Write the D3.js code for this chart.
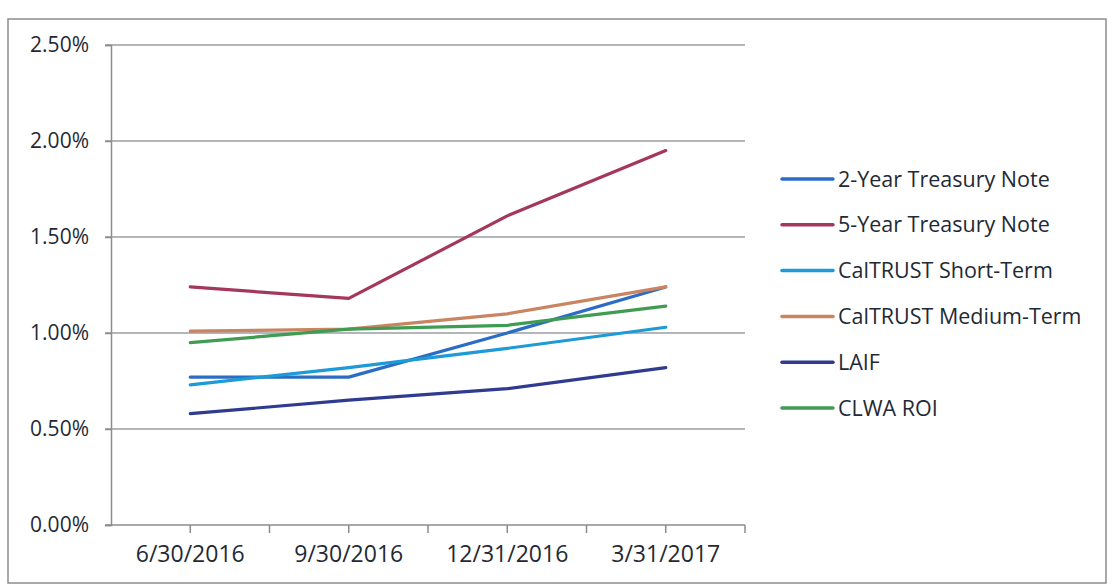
<!DOCTYPE html>
<html lang="en">
<head>
<meta charset="utf-8">
<title>Rate comparison</title>
<script src="https://d3js.org/d3.v7.min.js"></script>
<style>
  body { margin: 0; background: #fff; }
  text { font-family: "Open Sans", sans-serif; fill: #1f2a35; }
</style>
</head>
<body>
<script>
// quarters on the x axis
var dates = ["6/30/2016", "9/30/2016", "12/31/2016", "3/31/2017"];

// series values (percent)
var twoYear     = [0.77, 0.77, 1.00, 1.24];
var fiveYear    = [1.24, 1.18, 1.61, 1.95];
var ctShort     = [0.73, 0.82, 0.92, 1.03];
var ctMedium    = [1.01, 1.02, 1.10, 1.24];
var laif        = [0.58, 0.65, 0.71, 0.82];
var clwa        = [0.95, 1.02, 1.04, 1.14];

var seriesNames  = ["2-Year Treasury Note", "5-Year Treasury Note", "CalTRUST Short-Term",
                    "CalTRUST Medium-Term", "LAIF", "CLWA ROI"];
var seriesValues = [twoYear, fiveYear, ctShort, ctMedium, laif, clwa];
var seriesColors = ["#2b6cc4", "#a3385a", "#1c9bd6", "#c98462", "#2f3b8e", "#3f9c52"];

var yTicks = [0, 0.5, 1.0, 1.5, 2.0, 2.5];

var width = 1112, height = 587;
var plotLeft = 111, plotRight = 745, plotTop = 45, plotBottom = 525;

var svg = d3.select("body").append("svg")
    .attr("width", width)
    .attr("height", height);

// outer chart border
svg.append("rect")
    .attr("x", 8).attr("y", 19)
    .attr("width", 1098).attr("height", 564)
    .attr("fill", "none")
    .attr("stroke", "#8a8d90")
    .attr("stroke-width", 1.5);

var x = d3.scaleBand().domain(dates).range([plotLeft, plotRight]).padding(0);
var y = d3.scaleLinear().domain([0, 2.5]).range([plotBottom, plotTop]);

function cx(d) { return x(d) + x.bandwidth() / 2; }

// gridlines
svg.append("g").selectAll("line")
    .data(yTicks.filter(function(t) { return t > 0; }))
    .enter().append("line")
    .attr("x1", plotLeft - 6).attr("x2", plotRight)
    .attr("y1", function(d) { return y(d); })
    .attr("y2", function(d) { return y(d); })
    .attr("stroke", "#9a9ca0")
    .attr("stroke-width", 1.5);

// y axis
var yAxis = d3.axisLeft(y)
    .tickValues(yTicks)
    .tickSize(6)
    .tickPadding(16)
    .tickFormat(function(d) { return d.toFixed(2) + "%"; });

var gy = svg.append("g")
    .attr("transform", "translate(" + plotLeft + ",0)")
    .call(yAxis);
gy.attr("font-size", null).attr("font-family", null);
gy.select(".domain").attr("stroke", "#8a8d90").attr("stroke-width", 1.5);
gy.selectAll(".tick line").attr("stroke", "#8a8d90").attr("stroke-width", 1.5);
gy.selectAll(".tick text")
    .style("font-size", "21px")
    .attr("fill", "#1f2a35");

// x axis line
svg.append("line")
    .attr("x1", plotLeft - 6).attr("x2", plotRight)
    .attr("y1", plotBottom).attr("y2", plotBottom)
    .attr("stroke", "#8a8d90")
    .attr("stroke-width", 1.5);

// x tick marks at boundaries and category centres
var tickXs = [];
dates.forEach(function(d) { tickXs.push(x(d) + x.bandwidth() / 2); tickXs.push(x(d) + x.bandwidth()); });
svg.append("g").selectAll("line")
    .data(tickXs)
    .enter().append("line")
    .attr("x1", function(d) { return d; })
    .attr("x2", function(d) { return d; })
    .attr("y1", plotBottom).attr("y2", plotBottom + 8)
    .attr("stroke", "#8a8d90")
    .attr("stroke-width", 1.5);

svg.append("g").selectAll("text")
    .data(dates)
    .enter().append("text")
    .attr("x", cx)
    .attr("y", plotBottom + 37)
    .attr("text-anchor", "middle")
    .style("font-size", "23px")
    .text(function(d) { return d; });

// series lines
var line = d3.line()
    .x(function(d, i) { return cx(dates[i]); })
    .y(function(d) { return y(d); });

svg.append("g").selectAll("path")
    .data(seriesValues)
    .enter().append("path")
    .attr("d", line)
    .attr("fill", "none")
    .attr("stroke", function(d, i) { return seriesColors[i]; })
    .attr("stroke-width", 3.2)
    .attr("stroke-linejoin", "round")
    .attr("stroke-linecap", "round");

// legend
var legendY = d3.scalePoint().domain(seriesNames).range([179, 408]);
var legend = svg.append("g").selectAll("g")
    .data(seriesNames)
    .enter().append("g")
    .attr("transform", function(d) { return "translate(782," + legendY(d) + ")"; });

legend.append("line")
    .attr("x1", 0).attr("x2", 51)
    .attr("stroke", function(d, i) { return seriesColors[i]; })
    .attr("stroke-width", 3.5)
    .attr("stroke-linecap", "round");

legend.append("text")
    .attr("x", 56)
    .attr("dy", "0.35em")
    .style("font-size", "21.5px")
    .text(function(d) { return d; });
</script>
</body>
</html>
